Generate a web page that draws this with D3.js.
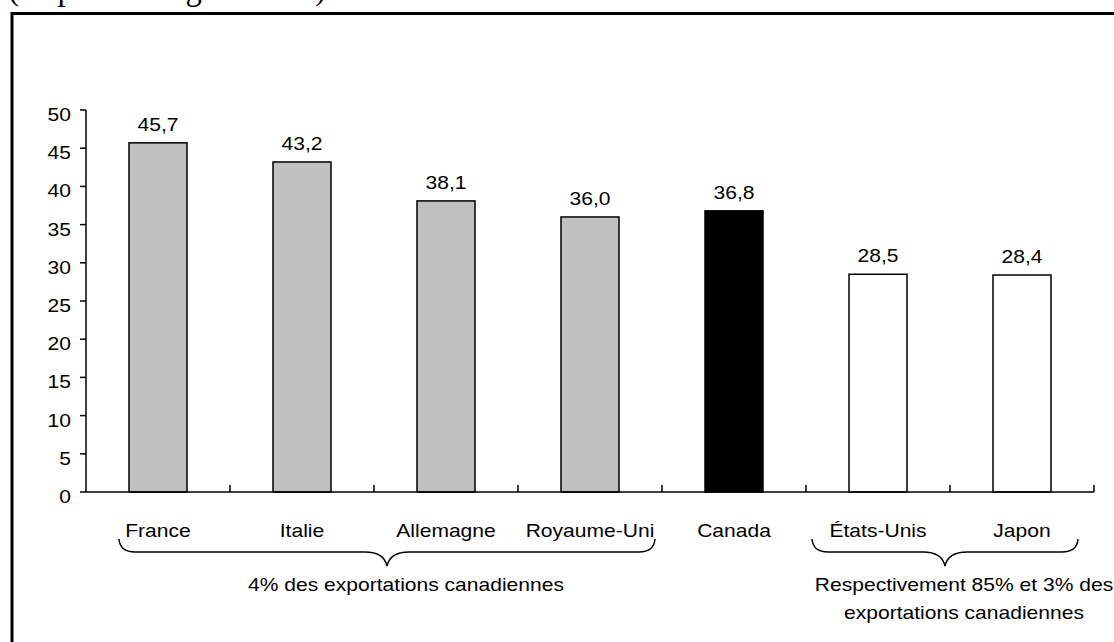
<!DOCTYPE html>
<html>
<head>
<meta charset="utf-8">
<script src="https://cdn.jsdelivr.net/npm/d3@7"></script>
<style>
  html, body { margin: 0; padding: 0; background: #fff; overflow: hidden; }
  svg { display: block; }
  text { font-family: Arial, "Liberation Sans", sans-serif; fill: #000; }
</style>
</head>
<body>
<script>
const categories = ["France", "Italie", "Allemagne", "Royaume-Uni", "Canada", "États-Unis", "Japon"];
const values = [45.7, 43.2, 38.1, 36.0, 36.8, 28.5, 28.4];
const valueLabels = ["45,7", "43,2", "38,1", "36,0", "36,8", "28,5", "28,4"];
const groupKind = ["autre", "autre", "autre", "autre", "canada", "majeur", "majeur"];
const yTicks = [0, 5, 10, 15, 20, 25, 30, 35, 40, 45, 50];
const title = "(en pourcentage du PIB)";
const braceGroups = [
  { from: "France", to: "Royaume-Uni", lines: ["4% des exportations canadiennes"] },
  { from: "États-Unis", to: "Japon", lines: ["Respectivement 85% et 3% des", "exportations canadiennes"] }
];

const W = 1114, H = 642;
const fills = { autre: "#c0c0c0", canada: "#000000", majeur: "#ffffff" };
const FS = 18, SX = 1.17; // text is horizontally stretched in the reference

const svg = d3.select("body").append("svg").attr("width", W).attr("height", H);

function label(parent, tx, ty, str, anchor) {
  return parent.append("text")
    .attr("transform", `translate(${tx},${ty}) scale(${SX},1)`)
    .attr("text-anchor", anchor || "middle")
    .style("font-size", FS + "px")
    .text(str);
}

// partially clipped title at top (only descenders visible)
svg.append("text")
  .attr("x", 8).attr("y", -1)
  .attr("textLength", 318).attr("lengthAdjust", "spacingAndGlyphs")
  .style("font-family", "'Times New Roman', 'Liberation Serif', serif")
  .style("font-size", "36px")
  .text(title);

// outer frame (extends beyond the picture on right and bottom)
svg.append("rect")
  .attr("x", 12).attr("y", 13.5)
  .attr("width", 1300).attr("height", 800)
  .attr("fill", "none").attr("stroke", "#000").attr("stroke-width", 3);

const x = d3.scaleBand().domain(categories).range([86, 1094])
  .paddingInner(86 / 144).paddingOuter(43 / 144);
const y = d3.scaleLinear().domain([0, 50]).range([492, 110]);
const bw = x.bandwidth();
const step = x.step();

// y axis
const yAxis = svg.append("g");
yAxis.append("line").attr("x1", 86).attr("x2", 86).attr("y1", y(0)).attr("y2", y(50))
  .attr("stroke", "#000").attr("stroke-width", 1.5);
yAxis.selectAll("line.tick").data(yTicks).join("line").attr("class", "tick")
  .attr("x1", 80).attr("x2", 86).attr("y1", d => y(d)).attr("y2", d => y(d))
  .attr("stroke", "#000").attr("stroke-width", 1.5);
yTicks.forEach(t => label(yAxis, 71, y(t) + 11, String(t), "end"));

// bars
svg.selectAll("rect.bar").data(categories).join("rect").attr("class", "bar")
  .attr("x", d => x(d)).attr("width", bw)
  .attr("y", (d, i) => y(values[i])).attr("height", (d, i) => y(0) - y(values[i]))
  .attr("fill", (d, i) => fills[groupKind[i]])
  .attr("stroke", "#000").attr("stroke-width", 1.5);

// value labels
categories.forEach((d, i) => label(svg, x(d) + bw / 2, y(values[i]) - 12, valueLabels[i]));

// x axis
svg.append("line").attr("x1", 86).attr("x2", 1094).attr("y1", y(0)).attr("y2", y(0))
  .attr("stroke", "#000").attr("stroke-width", 1.5);
const boundaries = categories.map(d => x(d) + bw / 2 + step / 2);
svg.selectAll("line.xtick").data(boundaries).join("line").attr("class", "xtick")
  .attr("x1", d => d).attr("x2", d => d).attr("y1", y(0)).attr("y2", y(0) - 7)
  .attr("stroke", "#000").attr("stroke-width", 1.5);

// category labels
categories.forEach(d => label(svg, x(d) + bw / 2, 537, d));

// braces
const yEnd = 539, yLine = 552, yTip = 566;
braceGroups.forEach(g => {
  const x1 = x(g.from) + bw / 2 - (g.from === "France" ? 39 : 66);
  const x2 = x(g.to) + bw / 2 + (g.to === "Royaume-Uni" ? 65 : 56);
  const tip = (x1 + x2) / 2;
  const p = d3.path();
  p.moveTo(x1, yEnd);
  p.quadraticCurveTo(x1 + 1, yLine, x1 + 16, yLine);
  p.lineTo(tip - 22, yLine);
  p.quadraticCurveTo(tip - 3, yLine, tip, yTip);
  p.quadraticCurveTo(tip + 3, yLine, tip + 22, yLine);
  p.lineTo(x2 - 16, yLine);
  p.quadraticCurveTo(x2 - 1, yLine, x2, yEnd);
  svg.append("path").attr("d", p.toString())
    .attr("fill", "none").attr("stroke", "#000").attr("stroke-width", 1.5);
  g.lines.forEach((line, i) => label(svg, tip + 19, 591 + i * 28, line));
});
</script>
</body>
</html>
